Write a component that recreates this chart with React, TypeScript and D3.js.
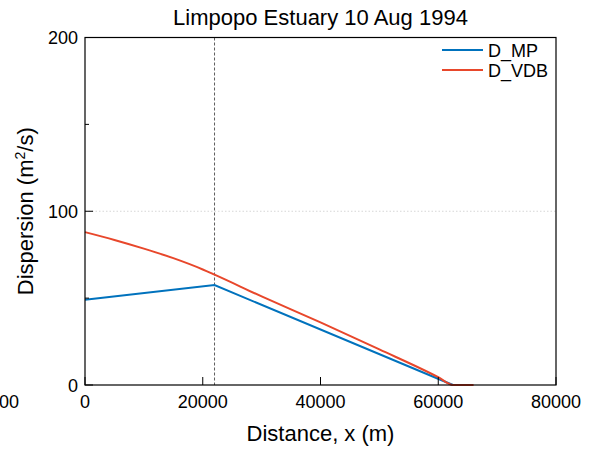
import React from "react";
import * as d3 from "d3";

const title = "Limpopo Estuary 10 Aug 1994";
const xTicks = [0, 20000, 40000, 60000, 80000];
const yTicks = [0, 100, 200];
const yMinorTicks = [50, 150];
const dashedX = 22000;

const mpX = [0, 22000, 62500];
const mpY = [49, 57.5, 0];

const vdbX = [0, 5000, 10000, 15000, 20000, 22000, 30000, 40000, 50000, 60000, 62500, 66000];
const vdbY = [88, 83.5, 78.5, 73, 66.5, 63.5, 51, 36, 20.5, 4.5, 0, 0];

const W = 590;
const H = 451;
const M = { left: 85, right: 34, top: 37.5, bottom: 66 };

export default function App() {
  const x = d3.scaleLinear().domain([0, 80000]).range([M.left, W - M.right]);
  const y = d3.scaleLinear().domain([0, 200]).range([H - M.bottom, M.top]);
  const line = d3.line<[number, number]>().x((d) => x(d[0])).y((d) => y(d[1]));
  const smooth = d3.line<[number, number]>().x((d) => x(d[0])).y((d) => y(d[1])).curve(d3.curveMonotoneX);
  const mp = mpX.map((v, i) => [v, mpY[i]] as [number, number]);
  const vdb = vdbX.map((v, i) => [v, vdbY[i]] as [number, number]);
  const font = "'Liberation Sans', Arial, sans-serif";
  const x0 = x(0), x1 = x(80000), y0 = y(0), y1 = y(200);
  return (
    <svg width={W} height={H} style={{ position: "absolute", left: 0, top: 0, background: "#fff" }} fontFamily={font}>
      <rect x={0} y={0} width={W} height={H} fill="#fff" />
      <text x={(x0 + x1) / 2} y={25} textAnchor="middle" fontSize={22}>{title}</text>
      <line x1={x0} x2={x1} y1={y(100)} y2={y(100)} stroke="#ccc" strokeWidth={0.8} strokeDasharray="1.5,2" />
      <line x1={x(dashedX)} x2={x(dashedX)} y1={y1} y2={y0} stroke="#333" strokeWidth={0.8} strokeDasharray="3,2" />
      <path d={line(mp) || ""} fill="none" stroke="#0072BD" strokeWidth={2} />
      <path d={smooth(vdb) || ""} fill="none" stroke="#E8472B" strokeWidth={2} />
      <rect x={x0} y={y1} width={x1 - x0} height={y0 - y1} fill="none" stroke="#000" strokeWidth={1.2} />
      {xTicks.map((t) => (
        <g key={"x" + t}>
          <line x1={x(t)} x2={x(t)} y1={y0} y2={y0 - 8} stroke="#000" strokeWidth={1} />
          <text x={x(t)} y={408} textAnchor="middle" fontSize={18}>{t}</text>
        </g>
      ))}
      <text x={19} y={408} textAnchor="end" fontSize={18}>00</text>
      {yTicks.map((t) => (
        <g key={"y" + t}>
          <line x1={x0} x2={x0 + 8} y1={y(t)} y2={y(t)} stroke="#000" strokeWidth={1} />
          <text x={78} y={y(t) + 6.5} textAnchor="end" fontSize={18}>{t}</text>
        </g>
      ))}
      {yMinorTicks.map((t) => (
        <line key={"m" + t} x1={x0} x2={x0 + 4} y1={y(t)} y2={y(t)} stroke="#000" strokeWidth={1} />
      ))}
      <text x={(x0 + x1) / 2} y={441} textAnchor="middle" fontSize={22}>Distance, x (m)</text>
      <text transform={`translate(33,${(y0 + y1) / 2}) rotate(-90)`} textAnchor="middle" fontSize={22}>
        Dispersion (m<tspan dy={-8} fontSize={14}>2</tspan><tspan dy={8}>/s)</tspan>
      </text>
      <line x1={442} x2={483} y1={50} y2={50} stroke="#0072BD" strokeWidth={2} />
      <text x={488} y={56.5} fontSize={18}>D_MP</text>
      <line x1={442} x2={483} y1={70} y2={70} stroke="#E8472B" strokeWidth={2} />
      <text x={488} y={76.5} fontSize={18}>D_VDB</text>
    </svg>
  );
}
